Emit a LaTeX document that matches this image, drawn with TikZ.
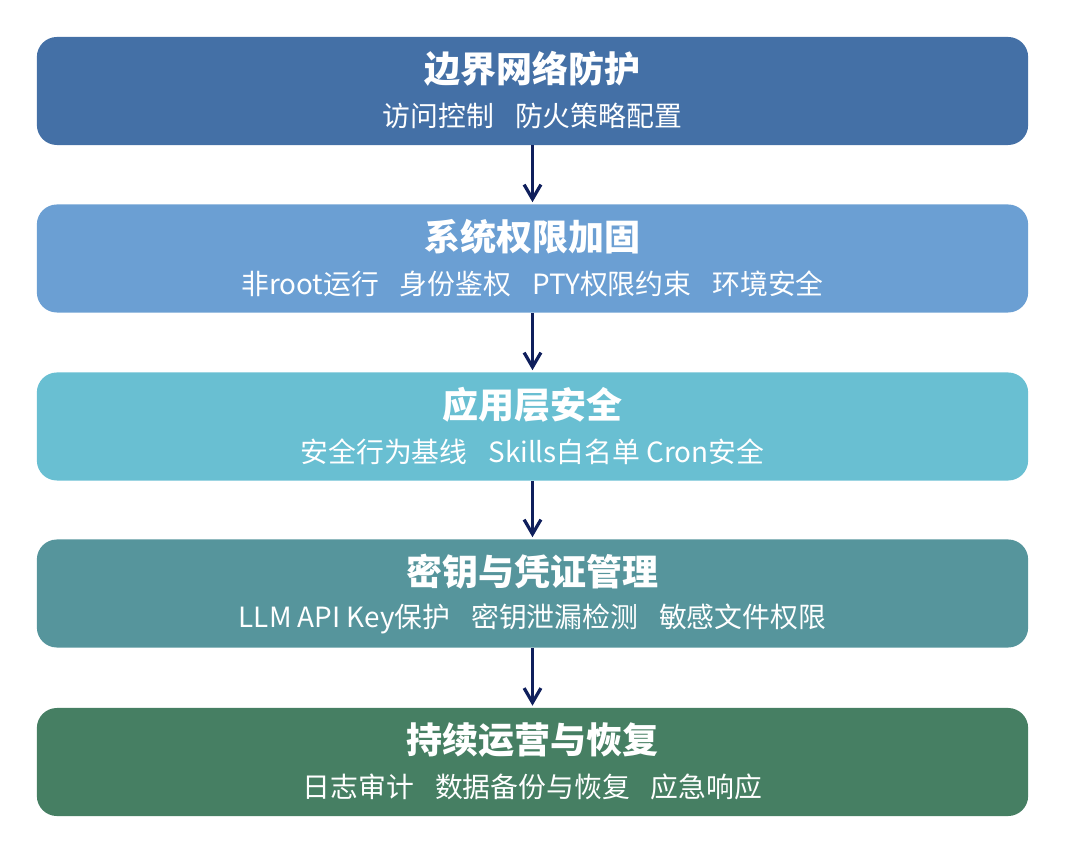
\documentclass[tikz,border=0pt]{standalone}
\usepackage{fontspec}
\setmainfont{Noto Sans CJK SC}
\usetikzlibrary{arrows.meta}

\definecolor{edgeblue}{HTML}{4470A6}
\definecolor{sysblue}{HTML}{6B9FD3}
\definecolor{appcyan}{HTML}{69BFD2}
\definecolor{keyteal}{HTML}{56959C}
\definecolor{opsgreen}{HTML}{467F63}
\definecolor{arrownavy}{HTML}{0F1F5C}

\begin{document}
\begin{tikzpicture}[x=0.025cm, y=-0.025cm,
    layer/.style={rounded corners=0.5cm, minimum width=24.775cm, minimum height=2.7cm, inner sep=0pt},
    layertitle/.style={text=white, font=\fontsize{25.6}{30}\selectfont\bfseries},
    layertext/.style={text=white, font=\fontsize{19.8}{23}\selectfont},
    flow/.style={-{Straight Barb[length=0.36cm, width=0.42cm]}, line width=2.3pt, arrownavy, shorten >=0.05cm}]

        % Fix the page size
        \useasboundingbox (0,0) rectangle (1080,852);

        % Draw the layers
        \node[layer, fill=edgeblue] (edge) at (532.5,91) {};
        \node[layer, fill=sysblue] (sys) at (532.5,258.5) {};
        \node[layer, fill=appcyan] (app) at (532.5,426.5) {};
        \node[layer, fill=keyteal] (keys) at (532.5,593.5) {};
        \node[layer, fill=opsgreen] (ops) at (532.5,762) {};

        % Add labels
        \node[layertitle] (edgetitle) at ([yshift=0.55cm]edge.center) {边界网络防护};
        \node[layertext] (edgetext) at ([yshift=-0.625cm]edge.center) {访问控制\hspace{0.75em}防火策略配置};

        \node[layertitle] (systitle) at ([yshift=0.55cm]sys.center) {系统权限加固};
        \node[layertext] (systext) at ([yshift=-0.625cm]sys.center) {非root运行\hspace{0.75em}身份鉴权\hspace{0.75em}PTY权限约束\hspace{0.75em}环境安全};

        \node[layertitle] (apptitle) at ([yshift=0.55cm]app.center) {应用层安全};
        \node[layertext] (apptext) at ([yshift=-0.625cm]app.center) {安全行为基线\hspace{0.75em}Skills白名单 Cron安全};

        \node[layertitle] (keystitle) at ([yshift=0.55cm]keys.center) {密钥与凭证管理};
        \node[layertext] (keystext) at ([yshift=-0.625cm]keys.center) {LLM API Key保护\hspace{0.75em}密钥泄漏检测\hspace{0.75em}敏感文件权限};

        \node[layertitle] (opstitle) at ([yshift=0.55cm]ops.center) {持续运营与恢复};
        \node[layertext] (opstext) at ([yshift=-0.625cm]ops.center) {日志审计\hspace{0.75em}数据备份与恢复\hspace{0.75em}应急响应};

        % Draw the arrows
        \draw[flow] (edge.south) -- (sys.north);
        \draw[flow] (sys.south) -- (app.north);
        \draw[flow] (app.south) -- (keys.north);
        \draw[flow] (keys.south) -- (ops.north);
      \end{tikzpicture}
\end{document}
